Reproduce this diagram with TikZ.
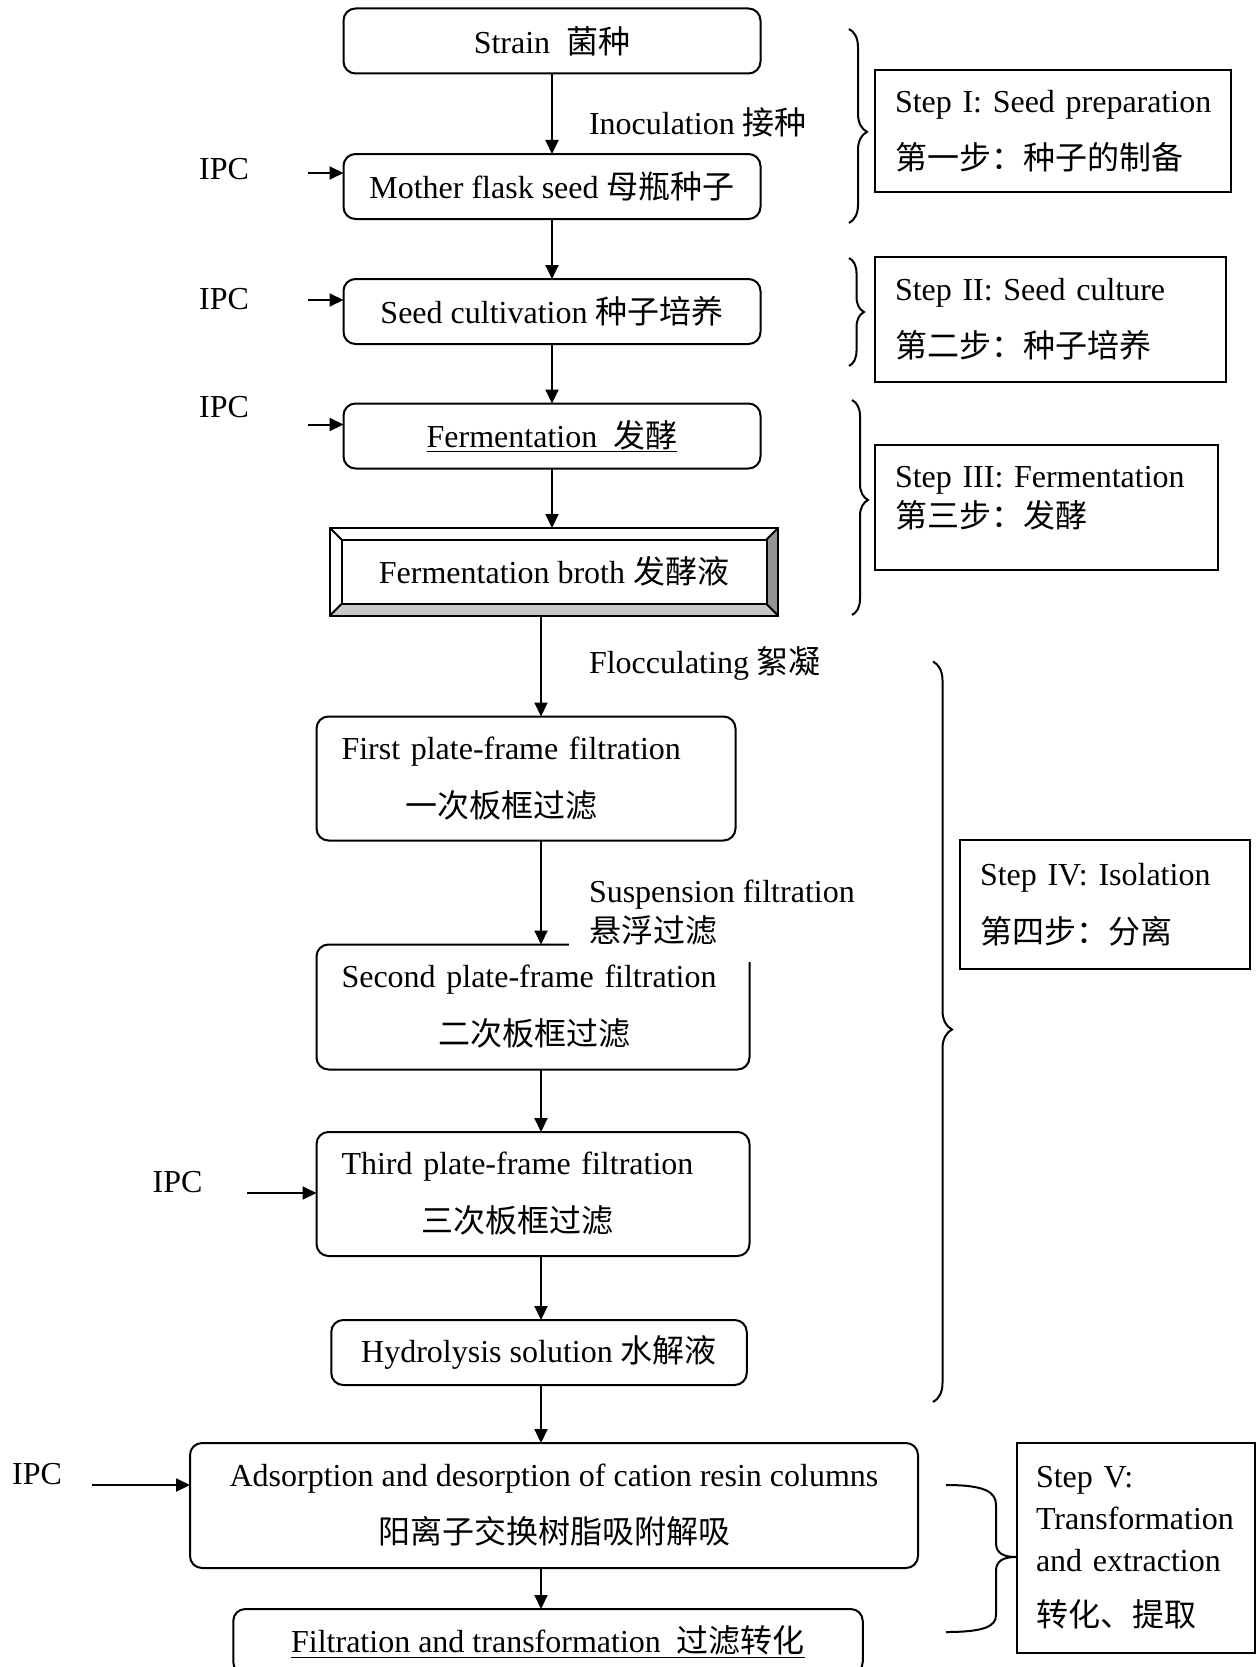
\documentclass[tikz,border=0pt]{standalone}
\usepackage{fontspec}
\setmainfont{Liberation Serif}
\newfontfamily\cjk{Noto Sans CJK SC}
\usetikzlibrary{arrows.meta, decorations.pathreplacing}
\usetikzlibrary{positioning}

\begin{document}
\begin{tikzpicture}[x=1pt, y=-1pt, line width=2pt, font=\fontsize{32}{40}\selectfont\frenchspacing]

\tikzstyle{stage} = [rectangle, rounded corners=12pt, outer sep=0pt, minimum width=417pt, minimum height=65pt, text centered, draw=black]
\tikzstyle{twoline} = [stage, align=center, minimum height=124pt]
\tikzstyle{filterbox} = [stage, align=left, inner xsep=25pt, minimum height=124pt]
\tikzstyle{stepbox} = [rectangle, draw=black, align=left, inner xsep=20pt]
\tikzstyle{note} = [anchor=west, inner sep=0pt]
\tikzstyle{arrow} = [->, >={Triangle[length=14pt, width=13pt]}]
\tikzstyle{bracket} = [decorate, decoration={brace, amplitude=18pt}]

\useasboundingbox (0,0) rectangle (1256,1667);

\node (strain) [stage] at (552,41) {Strain\ \ {\cjk 菌种}};
\node (mother) [stage, below=80.5pt of strain] {Mother flask seed {\cjk 母瓶种子}};
\node (seedcult) [stage, below=60pt of mother] {Seed cultivation {\cjk 种子培养}};
\node (ferm) [stage, below=59.5pt of seedcult] {\underline{Fermentation\ \ {\cjk 发酵}}};
\node (broth) [rectangle, draw=black, outer sep=0pt, minimum width=448pt, minimum height=87.5pt, below=59.5pt of ferm, xshift=2pt] {Fermentation broth {\cjk 发酵液}};
\node (first) [filterbox, text width=369pt, below=101pt of broth, xshift=-28pt] {First plate-frame filtration\\[18pt]\hspace*{64pt}{\cjk 一次板框过滤}};
\node (second) [filterbox, text width=383pt, minimum height=125pt, below=104pt of first, xshift=7pt] {Second plate-frame filtration\\[18pt]\hspace*{97pt}{\cjk 二次板框过滤}};
\node (third) [filterbox, text width=383pt, below=62.5pt of second] {Third plate-frame filtration\\[18pt]\hspace*{80pt}{\cjk 三次板框过滤}};
\node (hydro) [stage, minimum width=415.5pt, below=64pt of third, xshift=6pt] {Hydrolysis solution {\cjk 水解液}};
\node (adsorb) [twoline, minimum width=728pt, minimum height=125pt, below=58pt of hydro, xshift=15pt] {Adsorption and desorption of cation resin columns\\[17pt]{\cjk 阳离子交换树脂吸附解吸}};
\node (filt) [stage, minimum width=629.5pt, below=41pt of adsorb, xshift=-6pt] {\underline{Filtration and transformation\ \ {\cjk 过滤转化}}};

\fill [black!22] (broth.south west) -- (broth.south east) -- ([shift={(-11.5,-11.5)}]broth.south east) -- ([shift={(11.5,-11.5)}]broth.south west) -- cycle;
\fill [black!42] (broth.north east) -- (broth.south east) -- ([shift={(-11.5,-11.5)}]broth.south east) -- ([shift={(-11.5,11.5)}]broth.north east) -- cycle;
\draw (broth.north west) rectangle (broth.south east);
\draw ([shift={(11.5,11.5)}]broth.north west) rectangle ([shift={(-11.5,-11.5)}]broth.south east);
\draw (broth.north west) -- ++(11.5,11.5);
\draw (broth.north east) -- ++(-11.5,11.5);
\draw (broth.south west) -- ++(11.5,-11.5);
\draw (broth.south east) -- ++(-11.5,-11.5);

\node (inoc) [note] at (588,122.5) {Inoculation {\cjk 接种}};
\node (flocc) [note] at (588,663.5) {Flocculating {\cjk 絮凝}};
\node (susp) [anchor=west, fill=white, align=left, inner xsep=20pt, inner ysep=16pt] at (568,913) {Suspension filtration\\{\cjk 悬浮过滤}};

\node (ipcmother) at (224,169) {IPC};
\node (ipcseed) at (224,299) {IPC};
\node (ipcferm) at (224,407.5) {IPC};
\node (ipcthird) at (177.5,1182.5) {IPC};
\node (ipcadsorb) at (37,1474) {IPC};
\coordinate (inmother) at (308,173);
\coordinate (inseed) at (308,300);
\coordinate (inferm) at (308,424.5);
\coordinate (inthird) at (247,1193);
\coordinate (inadsorb) at (92,1485);
\coordinate (spine) at (541,0);

\node (stepone) [stepbox, text width=316pt, minimum height=121.5pt] at (1053,130.75) {\mbox{Step I: Seed preparation}\\[17pt]{\cjk 第一步：种子的制备}};
\node (steptwo) [stepbox, text width=311pt, minimum height=125pt] at (1050.5,319.5) {Step II: Seed culture\\[17pt]{\cjk 第二步：种子培养}};
\node (stepthree) [stepbox, text width=303pt, minimum height=125.5pt, text depth=60pt] at (1046.5,507.25) {Step III: Fermentation\\{\cjk 第三步：发酵}};
\node (stepfour) [stepbox, text width=250pt, minimum height=129pt] at (1105,904.5) {Step IV: Isolation\\[17.5pt]{\cjk 第四步：分离}};
\node (stepfive) [stepbox, text width=200pt, inner xsep=19pt, minimum height=210pt] at (1136,1548) {Step V:\\[2pt]Transformation\\[2pt]and extraction\\[15pt]{\cjk 转化、提取}};

\draw [arrow] (strain) -- (mother);
\draw [arrow] (mother) -- (seedcult);
\draw [arrow] (seedcult) -- (ferm);
\draw [arrow] (ferm.south) -- (ferm.south |- broth.north);
\draw [arrow] (broth.south -| spine) -- (first.north -| spine);
\draw [arrow] (first.south -| spine) -- (second.north -| spine);
\draw [arrow] (second.south -| spine) -- (third.north -| spine);
\draw [arrow] (third.south -| spine) -- (hydro.north -| spine);
\draw [arrow] (hydro.south -| spine) -- (adsorb.north -| spine);
\draw [arrow] (adsorb.south -| spine) -- (filt.north -| spine);

\draw [arrow] (inmother) -- (inmother -| mother.west);
\draw [arrow] (inseed) -- (inseed -| seedcult.west);
\draw [arrow] (inferm) -- (inferm -| ferm.west);
\draw [arrow] (inthird) -- (inthird -| third.west);
\draw [arrow] (inadsorb) -- (inadsorb -| adsorb.west);

\draw [bracket, decoration={aspect=0.53}] (849,29) -- (849,223);
\draw [bracket, decoration={amplitude=15pt}] (849,258) -- (849,366);
\draw [bracket, decoration={amplitude=16pt, aspect=0.465}] (852,400) -- (852,615);
\draw [bracket, decoration={amplitude=19pt, aspect=0.497}] (933,661.5) -- (933,1402);
\draw (946,1485) .. controls (985,1485) and (996,1492) .. (996,1505) -- (996,1543) .. controls (996,1553) and (1003,1557) .. (1016,1557) .. controls (1003,1557) and (996,1561) .. (996,1571) -- (996,1615) .. controls (996,1626) and (985,1632) .. (946,1632);
\end{tikzpicture}
\end{document}
